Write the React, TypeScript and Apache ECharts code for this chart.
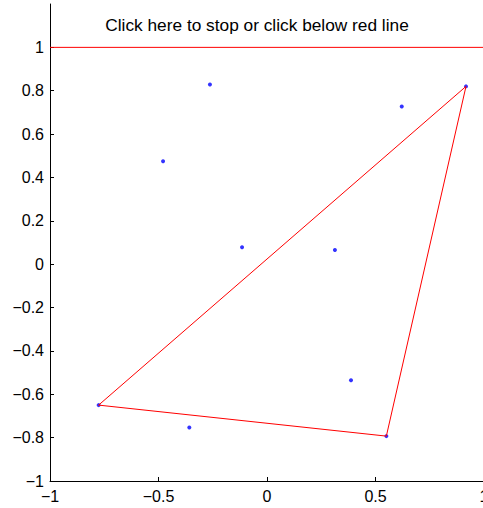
import React, { useEffect, useRef } from "react";
import * as echarts from "echarts";

const pointsX = [-0.263, -0.479, -0.115, 0.313, 0.621, 0.917, 0.387, -0.358, -0.776, 0.55];
const pointsY = [0.829, 0.475, 0.078, 0.065, 0.727, 0.82, -0.535, -0.753, -0.65, -0.793];
const polygonX = [-0.776, 0.55, 0.917, -0.776];
const polygonY = [-0.65, -0.793, 0.82, -0.65];
const stopLineX = [-1, 1];
const stopLineY = [1, 1];
const xTicks = [-1, -0.5, 0, 0.5, 1];
const yTicks = [-1, -0.8, -0.6, -0.4, -0.2, 0, 0.2, 0.4, 0.6, 0.8, 1];
const title = "Click here to stop or click below red line";

const fmt = (v: number) => {
  const s = String(Math.round(v * 10) / 10);
  return s.replace("-", "\u2212");
};

export default function App() {
  const ref = useRef<HTMLDivElement>(null);
  useEffect(() => {
    if (!ref.current) return;
    const chart = echarts.init(ref.current, null, { renderer: "svg" });
    const font = "'Liberation Sans', Arial, sans-serif";
    chart.setOption({
      animation: false,
      textStyle: { fontFamily: font },
      grid: { left: 50, top: 4, width: 434, height: 477, containLabel: false, outerBoundsMode: "none" },
      xAxis: {
        type: "value",
        min: -1,
        max: 1,
        interval: 0.5,
        axisLine: { show: true, onZero: false, lineStyle: { color: "#000", width: 1 } },
        axisTick: { show: true, inside: true, length: 4, lineStyle: { color: "#000" }, customValues: xTicks },
        axisLabel: { color: "#000", fontSize: 16, margin: 7, fontFamily: font, formatter: fmt, customValues: xTicks },
        splitLine: { show: false },
      },
      yAxis: {
        type: "value",
        min: -1,
        max: 1.2,
        interval: 0.2,
        axisLine: { show: true, onZero: false, lineStyle: { color: "#000", width: 1 } },
        axisTick: { show: true, inside: true, length: 4, lineStyle: { color: "#000" }, customValues: yTicks },
        axisLabel: { color: "#000", fontSize: 16, margin: 6, fontFamily: font, formatter: fmt, customValues: yTicks },
        splitLine: { show: false },
      },
      graphic: [
        {
          type: "text",
          x: 257,
          y: 25,
          style: {
            text: title,
            fill: "#000",
            fontSize: 17.3,
            fontFamily: font,
            align: "center",
            verticalAlign: "middle",
          },
        },
      ],
      series: [
        {
          type: "line",
          data: stopLineX.map((x, i) => [x, stopLineY[i]]),
          showSymbol: false,
          lineStyle: { color: "#ff0000", width: 1 },
          clip: false,
        },
        {
          type: "line",
          data: polygonX.map((x, i) => [x, polygonY[i]]),
          showSymbol: false,
          lineStyle: { color: "#ff0000", width: 1 },
        },
        {
          type: "scatter",
          data: pointsX.map((x, i) => [x, pointsY[i]]),
          symbol: "circle",
          symbolSize: 4,
          itemStyle: { color: "#0000ff" },
        },
      ],
    });
    return () => chart.dispose();
  }, []);
  return (
    <div
      ref={ref}
      style={{ position: "fixed", left: 0, top: 0, width: 483, height: 508, background: "#fff" }}
    />
  );
}
